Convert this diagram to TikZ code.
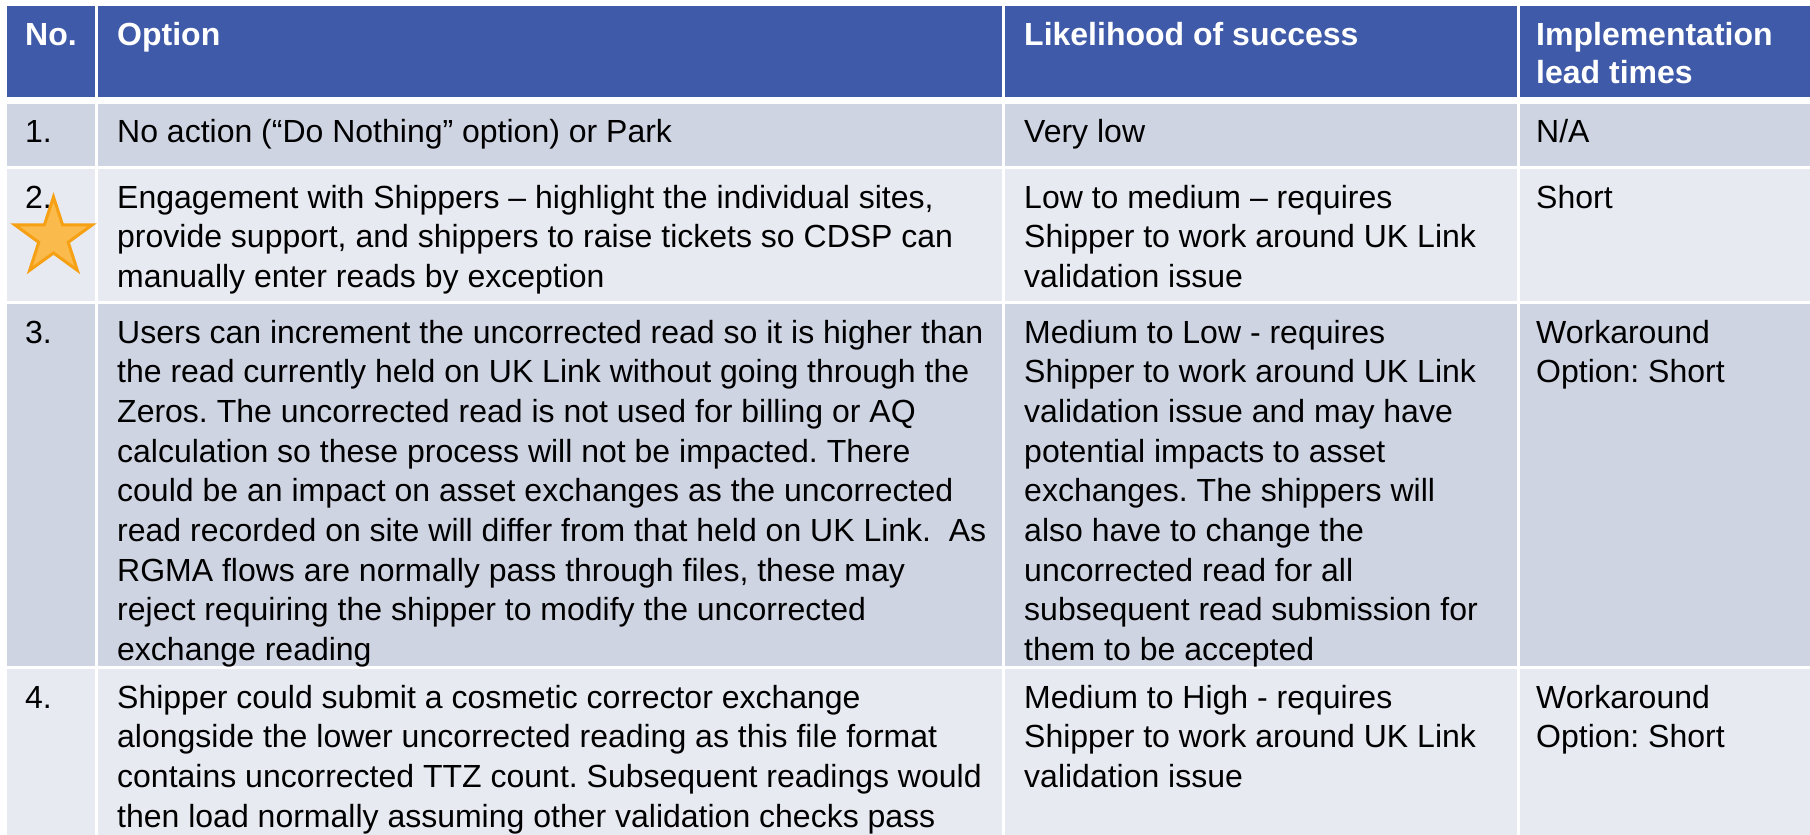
\documentclass[tikz,border=0pt]{standalone}
\usepackage{fontspec}
\setmainfont{Liberation Sans}
\definecolor{hdr}{RGB}{63,90,168}
\definecolor{rowA}{RGB}{207,212,227}
\definecolor{rowB}{RGB}{232,234,242}
\definecolor{starfill}{RGB}{251,186,76}
\definecolor{starline}{RGB}{246,160,20}
\frenchspacing
\newcommand{\celltext}[1]{\parbox[t]{60cm}{\raggedright #1}}
\tikzset{
  txt/.style={anchor=base west, inner sep=0pt, font=\frenchspacing\fontsize{32}{39.7}\selectfont},
  hd/.style={anchor=base west, inner sep=0pt, text=white, font=\bfseries\fontsize{32}{38.5}\selectfont},
  sep/.style={draw=white, line width=2.5pt},
  starstyle/.style={fill=starfill, draw=starline, line width=3pt, line join=miter},
}
\begin{document}
\begin{tikzpicture}[x=1pt,y=-1pt]
\useasboundingbox (0,0) rectangle (1810,835);
\fill[white] (0,0) rectangle (1810,835);
% rows
\fill[hdr]  (7,6)   rectangle (1810,97);
\fill[rowA] (7,104) rectangle (1810,166);
\fill[rowB] (7,169) rectangle (1810,301);
\fill[rowA] (7,304) rectangle (1810,666);
\fill[rowB] (7,669) rectangle (1810,835);
% column separators
\foreach \x in {96.5,1003.5,1518.5} \draw[sep] (\x,6) -- (\x,835);
% header
\node[hd] (h1) at (25,45) {No.};
\node[hd] (h2) at (117,45) {Option};
\node[hd] (h3) at (1024,45) {Likelihood of success};
\node[hd] (h4) at (1536,45) {\celltext{Implementation\\lead times}};
% row 1
\node[txt] (n1) at (25,142) {1.};
\node[txt] (o1) at (117,142) {No action (“Do Nothing” option) or Park};
\node[txt] (l1) at (1024,142) {Very low};
\node[txt] (t1) at (1536,142) {N/A};
% row 2
\node[txt] (n2) at (25,208) {2.};
\node[txt] (o2) at (117,208) {\celltext{Engagement with Shippers – highlight the individual sites,\\provide support, and shippers to raise tickets so CDSP can\\manually enter reads by exception}};
\node[txt] (l2) at (1024,208) {\celltext{Low to medium – requires\\Shipper to work around UK Link\\validation issue}};
\node[txt] (t2) at (1536,208) {Short};
% star
\begin{scope}[shift={(53.5,237.5)}]
\draw[starstyle] (90:40.5pt) -- (126:15.5pt) -- (162:40.5pt) -- (198:15.5pt) -- (234:40.5pt)
  -- (270:15.5pt) -- (306:40.5pt) -- (342:15.5pt) -- (18:40.5pt) -- (54:15.5pt) -- cycle;
\end{scope}
% row 3
\node[txt] (n3) at (25,343) {3.};
\node[txt] (o3) at (117,343) {\celltext{Users can increment the uncorrected read so it is higher than\\the read currently held on UK Link without going through the\\Zeros. The uncorrected read is not used for billing or AQ\\calculation so these process will not be impacted. There\\could be an impact on asset exchanges as the uncorrected\\read recorded on site will differ from that held on UK Link.~~As\\RGMA flows are normally pass through files, these may\\reject requiring the shipper to modify the uncorrected\\exchange reading}};
\node[txt] (l3) at (1024,343) {\celltext{Medium to Low - requires\\Shipper to work around UK Link\\validation issue and may have\\potential impacts to asset\\exchanges. The shippers will\\also have to change the\\uncorrected read for all\\subsequent read submission for\\them to be accepted}};
\node[txt] (t3) at (1536,343) {\celltext{Workaround\\Option: Short}};
% row 4
\node[txt] (n4) at (25,708) {4.};
\node[txt] (o4) at (117,708) {\celltext{Shipper could submit a cosmetic corrector exchange\\alongside the lower uncorrected reading as this file format\\contains uncorrected TTZ count. Subsequent readings would\\then load normally assuming other validation checks pass}};
\node[txt] (l4) at (1024,708) {\celltext{Medium to High - requires\\Shipper to work around UK Link\\validation issue}};
\node[txt] (t4) at (1536,708) {\celltext{Workaround\\Option: Short}};
\end{tikzpicture}
\end{document}
